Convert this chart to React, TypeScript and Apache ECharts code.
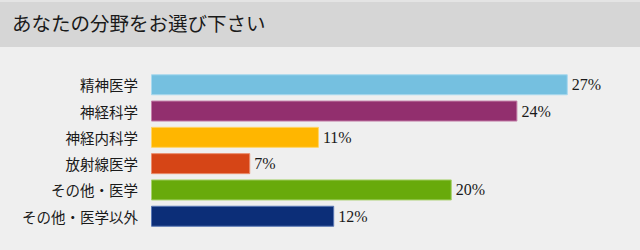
import React, { useEffect, useRef } from "react";
import * as echarts from "echarts";

const titleText = "あなたの分野をお選び下さい";
const categories = ["精神医学", "神経科学", "神経内科学", "放射線医学", "その他・医学", "その他・医学以外"];
const values = [27.3, 24.0, 11.0, 6.5, 19.7, 12.0];
const barColors = ["#75c0e0", "#922f6e", "#ffb600", "#d64516", "#68aa0b", "#0c2e78"];
const borderColors = ["#a9d9ee", "#c47fa8", "#ffd466", "#ea8c6c", "#a6d06a", "#5a78b4"];

export default function App() {
  const ref = useRef<HTMLDivElement>(null);
  useEffect(() => {
    document.body.style.margin = "0";
    const chart = echarts.init(ref.current!, null, { renderer: "svg" });
    chart.setOption({
      animation: false,
      backgroundColor: "#efefef",
      graphic: [
        { type: "rect", left: 0, top: 0, shape: { width: 640, height: 2 }, style: { fill: "#e4e4e4" }, z: -1 },
        { type: "rect", left: 0, top: 2, shape: { width: 640, height: 45 }, style: { fill: "#d6d6d6" }, z: -1 },
        {
          type: "text",
          left: 12,
          top: 13,
          style: {
            text: titleText,
            fill: "#1a1a1a",
            font: '19.5px "Noto Sans CJK JP"',
          },
        },
      ],
      grid: { left: 151, top: 71.6, width: 458, height: 157.8 },
      xAxis: {
        type: "value",
        min: 0,
        max: 30,
        show: false,
      },
      yAxis: {
        type: "category",
        data: categories,
        inverse: true,
        axisLine: { show: false },
        axisTick: { show: false },
        splitLine: { show: false },
        axisLabel: {
          margin: 13,
          color: "#1a1a1a",
          fontSize: 14.5,
          fontFamily: '"Noto Sans CJK JP"',
        },
      },
      series: [
        {
          type: "bar",
          barWidth: 21,
          data: values.map((v, i) => ({
            value: v,
            itemStyle: { color: barColors[i], borderColor: borderColors[i], borderWidth: 1 },
          })),
          label: {
            show: true,
            position: "right",
            distance: 4,
            color: "#1a1a1a",
            fontSize: 16,
            fontFamily: '"Liberation Serif"',
            formatter: (p: any) => Math.round(p.value) + "%",
          },
        },
      ],
    });
    return () => chart.dispose();
  }, []);
  return <div ref={ref} style={{ width: 640, height: 250 }} />;
}
